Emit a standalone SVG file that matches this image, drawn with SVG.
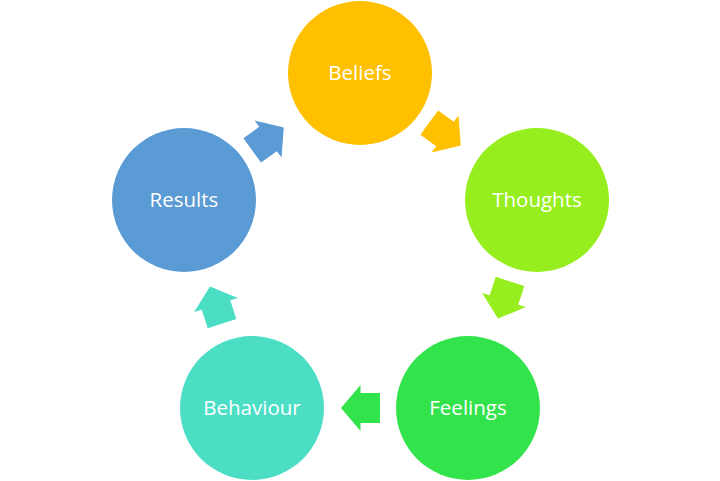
<svg xmlns="http://www.w3.org/2000/svg" width="720" height="481" viewBox="0 0 720 481">
<style>
.lbl{font-family:"Open Sans","Liberation Sans",sans-serif;font-size:20.5px;fill:#ffffff;text-anchor:middle}
</style>
<defs>
<path id="arr" d="M-19.5,-15 L0,-15 L0,-23 L19.5,0 L0,23 L0,15 L-19.5,15 Z"/>
</defs>
<rect width="720" height="481" fill="#ffffff"/>
<g id="connectors">
<use href="#arr" fill="#FFC000" transform="translate(445,134) rotate(36)"/>
<use href="#arr" fill="#96EE1E" transform="translate(504,300) rotate(108)"/>
<use href="#arr" fill="#33E34C" transform="translate(360.5,408) rotate(180)"/>
<use href="#arr" fill="#4BDEC5" transform="translate(216,305) rotate(-108)"/>
<use href="#arr" fill="#5B9BD5" transform="translate(268,139) rotate(-36)"/>
</g>
<g id="beliefs"><circle cx="360" cy="73" r="72" fill="#FFC000"/><text class="lbl" x="360" y="80">Beliefs</text></g>
<g id="thoughts"><circle cx="537" cy="200" r="72" fill="#96EE1E"/><text class="lbl" x="537" y="207">Thoughts</text></g>
<g id="feelings"><circle cx="468" cy="408" r="72" fill="#33E34C"/><text class="lbl" x="468" y="415">Feelings</text></g>
<g id="behaviour"><circle cx="252" cy="408" r="72" fill="#4BDEC5"/><text class="lbl" x="252" y="415">Behaviour</text></g>
<g id="results"><circle cx="184" cy="200" r="72" fill="#5B9BD5"/><text class="lbl" x="184" y="207">Results</text></g>
</svg>
